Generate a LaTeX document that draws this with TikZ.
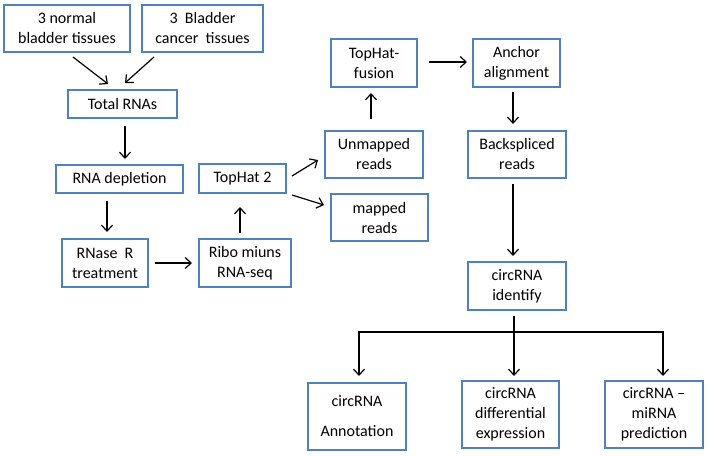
\documentclass[tikz,border=0pt]{standalone}
\usepackage{fontspec}
\setmainfont{Carlito}
\usetikzlibrary{calc,arrows.meta}
\tikzset{
	box/.style={draw=boxblue, line width=2pt, align=center, inner sep=0pt,
		font=\fontsize{16pt}{20pt}\selectfont},
	arr/.style={line width=1.2pt, -{Straight Barb[length=6pt, width=11pt, line width=1.2pt]}}
}
\definecolor{boxblue}{HTML}{4F81BD}

\begin{document}
\begin{tikzpicture}[x=1pt, y=-1pt]
		%%%%% START %%%%%
		
		\useasboundingbox[fill=white] (0, 0) rectangle (708, 455);
		
		\node[box, minimum width=126pt, minimum height=47pt] (normal) at (67, 28.5) {3 normal\\bladder tissues};
		\node[box, minimum width=121pt, minimum height=47pt] (cancer) at (202.5, 28.5) {3\ \ Bladder\\cancer\ \ tissues};
		\node[box, minimum width=109pt, minimum height=28pt] (total) at (122.5, 104) {Total RNAs};
		\node[box, minimum width=127pt, minimum height=28pt] (depl) at (119.5, 179) {RNA depletion};
		\node[box, minimum width=86pt, minimum height=48pt] (rnase) at (105, 263) {RNase\ \ R\\treatment};
		\node[box, minimum width=92pt, minimum height=48pt] (ribo) at (245, 263) {Ribo miuns\\RNA-seq};
		\node[box, minimum width=87pt, minimum height=29pt] (tophat) at (242.5, 178.5) {TopHat 2};
		
		\node[box, minimum width=98pt, minimum height=47pt] (unmapped) at (374, 154.5) {Unmapped\\reads};
		\node[box, minimum width=97pt, minimum height=47pt] (mapped) at (379.5, 217.5) {mapped\\reads};
		\node[box, minimum width=86pt, minimum height=48pt] (fusion) at (374, 63) {TopHat-\\fusion};
		\node[box, minimum width=87pt, minimum height=48pt] (anchor) at (516.5, 63) {Anchor\\alignment};
		\node[box, minimum width=98pt, minimum height=47pt] (backsp) at (517, 154.5) {Backspliced\\reads};
		\node[box, minimum width=98pt, minimum height=48pt] (ident) at (517, 286) {circRNA\\identify};
		
		\node[box, minimum width=98pt, minimum height=67pt] (annot) at (357, 416.5) {circRNA\\[10pt]Annotation};
		\node[box, minimum width=97pt, minimum height=67pt] (diff) at (510.5, 414.5) {circRNA\\differential\\expression};
		\node[box, minimum width=98pt, minimum height=67pt] (mirna) at (654, 414.5) {circRNA --\\miRNA\\prediction};
		
		\draw[arr] ($(normal.south)+(6, 4)$) -- ($(total.north)+(-14.5, -5)$);
		\draw[arr] ($(cancer.south)+(-48.5, 4)$) -- ($(total.north)+(2.5, -6)$);
		\draw[arr] ($(total.south)+(2.5, 7)$) -- ($(depl.north)+(5.5, -5)$);
		\draw[arr] ($(depl.south)+(-12.5, 7)$) -- ($(rnase.north)+(2, -6)$);
		\draw[arr] ($(rnase.east)+(6, 0)$) -- ($(ribo.west)+(-6, 0)$);
		\draw[arr] ($(ribo.north)+(-5, -5)$) -- ($(tophat.south)+(-2.5, 13)$);
		
		\draw[arr] ($(tophat.east)+(5, -2.5)$) -- ($(unmapped.west)+(-6, 5.5)$);
		\draw[arr] ($(tophat.south east)+(5, 1)$) -- ($(mapped.west)+(-6, -12.5)$);
		\draw[arr] ($(unmapped.north)+(-3, -11)$) -- ($(fusion.south)+(-3, 5)$);
		\draw[arr] ($(fusion.east)+(11, -1)$) -- ($(anchor.west)+(-5, -1)$);
		\draw[arr] ($(anchor.south)+(-3.5, 4)$) -- ($(backsp.north)+(-4, -6)$);
		\draw[arr] ($(backsp.south)+(-4, 5)$) -- ($(ident.north)+(-4, -5)$);
		
		\coordinate (fork) at ($(ident.south)+(-3, 21)$);
		\draw[arr] ($(ident.south)+(-3, 5)$) -- ($(diff.north)+(3.5, -4)$);
		\draw[arr] (fork) -| ($(annot.north)+(2, -6)$);
		\draw[arr] (fork) -| ($(mirna.north)+(9, -4)$);
		
		%%%%% END %%%%%
	\end{tikzpicture}
\end{document}
